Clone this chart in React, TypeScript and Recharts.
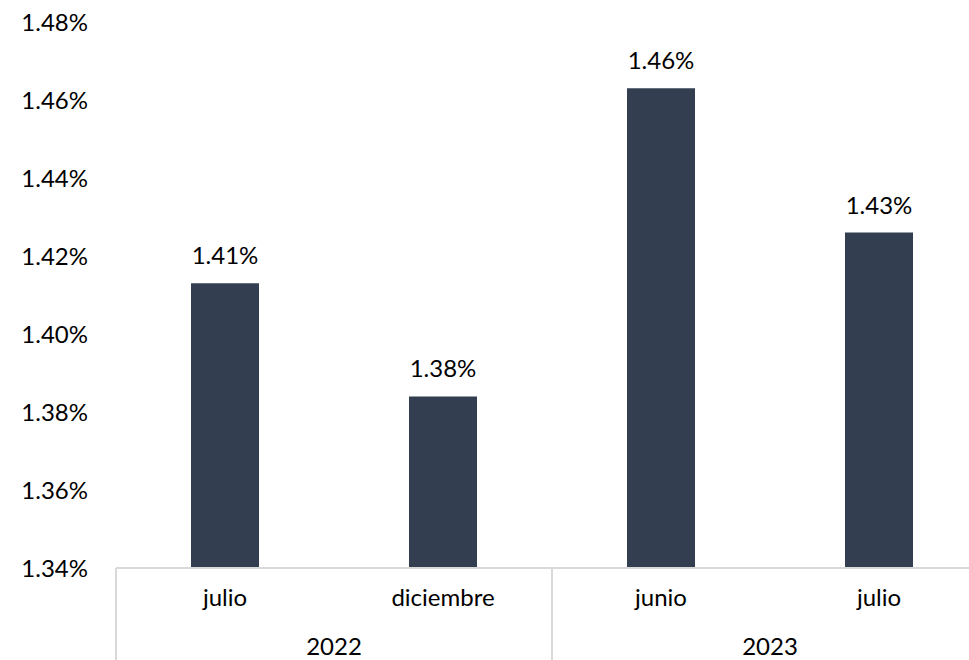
import React from "react";
import { BarChart, Bar, XAxis, YAxis, LabelList } from "recharts";

const months = ["julio", "diciembre", "junio", "julio"];
const years = ["2022", "2022", "2023", "2023"];
const values = [1.413, 1.384, 1.463, 1.426];
const yTicks = [1.34, 1.36, 1.38, 1.4, 1.42, 1.44, 1.46, 1.48];

const data = months.map((m, i) => ({ month: m, year: years[i], value: values[i] }));

const FONT = "Lato, 'Open Sans', sans-serif";
const pct = (v: number) => `${v.toFixed(2)}%`;
const TICK_MARGIN = 21;

function MonthTick(props: any) {
  const { x, y, payload } = props;
  const idx: number = payload.index;
  const half: number = payload.offset ?? 0;
  const axisY = y - TICK_MARGIN;
  const isGroupStart = idx === 0 || data[idx - 1].year !== data[idx].year;
  const isLast = idx === data.length - 1;
  return (
    <g>
      <text
        x={x}
        y={y}
        dy="0.71em"
        textAnchor="middle"
        fill="#000"
        fontSize={24}
        fontFamily={FONT}
      >
        {payload.value}
      </text>
      {isGroupStart && (
        <>
          <line x1={x - half} x2={x - half} y1={axisY} y2={axisY + 100} stroke="#d9d9d9" strokeWidth={2} />
          <text
            x={x + half}
            y={axisY + 70}
            dy="0.71em"
            textAnchor="middle"
            fill="#000"
            fontSize={24}
            fontFamily={FONT}
          >
            {data[idx].year}
          </text>
        </>
      )}
      {isLast && (
        <line x1={x + half} x2={x + half} y1={axisY} y2={axisY + 100} stroke="#d9d9d9" strokeWidth={2} />
      )}
    </g>
  );
}

export default function App() {
  return (
    <div style={{ position: "absolute", left: 0, top: 0, width: 1000, height: 660, fontFamily: FONT }}>
      <BarChart
        width={1000}
        height={660}
        data={data}
        margin={{ top: 22, right: 12, left: 0, bottom: 0 }}
      >
        <XAxis
          dataKey="month"
          height={92}
          axisLine={{ stroke: "#d9d9d9", strokeWidth: 2 }}
          tickLine={false}
          tickSize={0}
          tickMargin={TICK_MARGIN}
          interval={0}
          tick={<MonthTick />}
        />
        <YAxis
          domain={[1.34, 1.48]}
          ticks={yTicks}
          width={116}
          axisLine={false}
          tickLine={false}
          tickSize={0}
          tickMargin={28}
          allowDataOverflow
          tickFormatter={pct}
          tick={{ fill: "#000", fontSize: 24, fontFamily: FONT }}
        />
        <Bar dataKey="value" fill="#333f50" barSize={68} isAnimationActive={false}>
          <LabelList
            dataKey="value"
            position="top"
            offset={19}
            formatter={(v: number) => pct(v)}
            style={{ fill: "#000", fontSize: 24, fontFamily: FONT }}
          />
        </Bar>
      </BarChart>
    </div>
  );
}
